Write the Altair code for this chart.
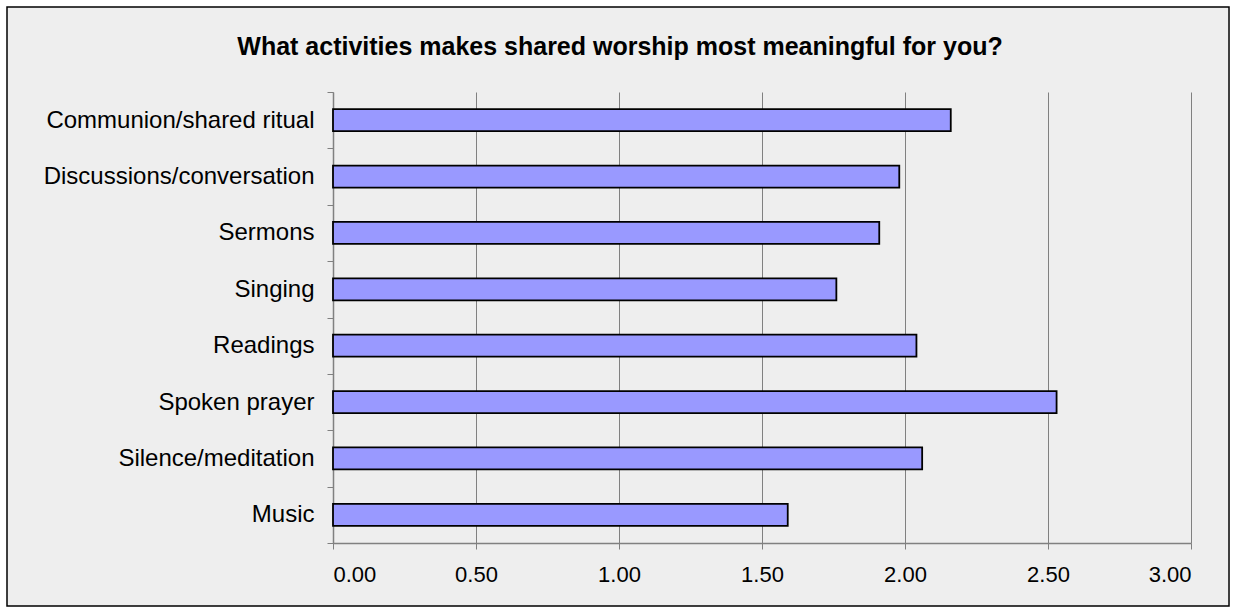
import altair as alt
import pandas as pd

categories = [
    "Communion/shared ritual",
    "Discussions/conversation",
    "Sermons",
    "Singing",
    "Readings",
    "Spoken prayer",
    "Silence/meditation",
    "Music",
]
values = [2.16, 1.98, 1.91, 1.76, 2.04, 2.53, 2.06, 1.59]
x_ticks = [0.0, 0.5, 1.0, 1.5, 2.0, 2.5, 3.0]
title_text = ["What activities makes shared worship most meaningful for you?"]

df = pd.DataFrame({"activity": categories, "score": values})
tdf = pd.DataFrame({"t": title_text})

FONT = "Liberation Sans"

bars = alt.Chart(df).mark_bar(
    size=22, color="#9999FF", stroke="black", strokeWidth=1.8
).encode(
    x=alt.X(
        "score:Q",
        scale=alt.Scale(domain=[0, 3], nice=False),
        axis=alt.Axis(
            values=x_ticks, format=".2f", title=None, grid=True,
            gridColor="#808080", gridWidth=1,
            domainColor="#808080", domainWidth=1.5,
            tickColor="#808080", tickSize=6, tickWidth=1,
            labelFont=FONT, labelFontSize=22, labelColor="black",
            labelPadding=15,
        ),
    ),
    y=alt.Y(
        "activity:N",
        sort=categories,
        scale=alt.Scale(paddingInner=0, paddingOuter=0),
        axis=alt.Axis(
            title=None, grid=False, tickBand="extent",
            domainColor="#808080", domainWidth=1.5,
            tickColor="#808080", tickSize=6, tickWidth=1,
            labelFont=FONT, labelFontSize=24, labelColor="black",
            labelPadding=13, labelLimit=0,
        ),
    ),
)

title = alt.Chart(tdf).mark_text(
    font=FONT, fontSize=25, fontWeight="bold", color="black",
    align="center", baseline="middle",
).encode(text="t:N", x=alt.value(287), y=alt.value(-45))

# decorative outer frame: white margin and a thin black border
margin = alt.Chart(tdf).mark_rect(fill=None, stroke="white", strokeWidth=14).encode(
    x=alt.value(-333), x2=alt.value(902), y=alt.value(-92), y2=alt.value(521)
)
frame = alt.Chart(tdf).mark_rect(fill=None, stroke="black", strokeWidth=1.5).encode(
    x=alt.value(-326), x2=alt.value(896), y=alt.value(-85), y2=alt.value(514)
)

chart = alt.layer(bars, title, margin, frame).properties(
    width=858,
    height=451,
    autosize=alt.AutoSizeParams(type="none"),
    padding={"left": 333, "top": 92, "right": 44, "bottom": 70},
    background="#EEEEEE",
).configure_view(strokeWidth=0)

chart.save("out.html", embed_options={"renderer": "svg", "actions": False})
